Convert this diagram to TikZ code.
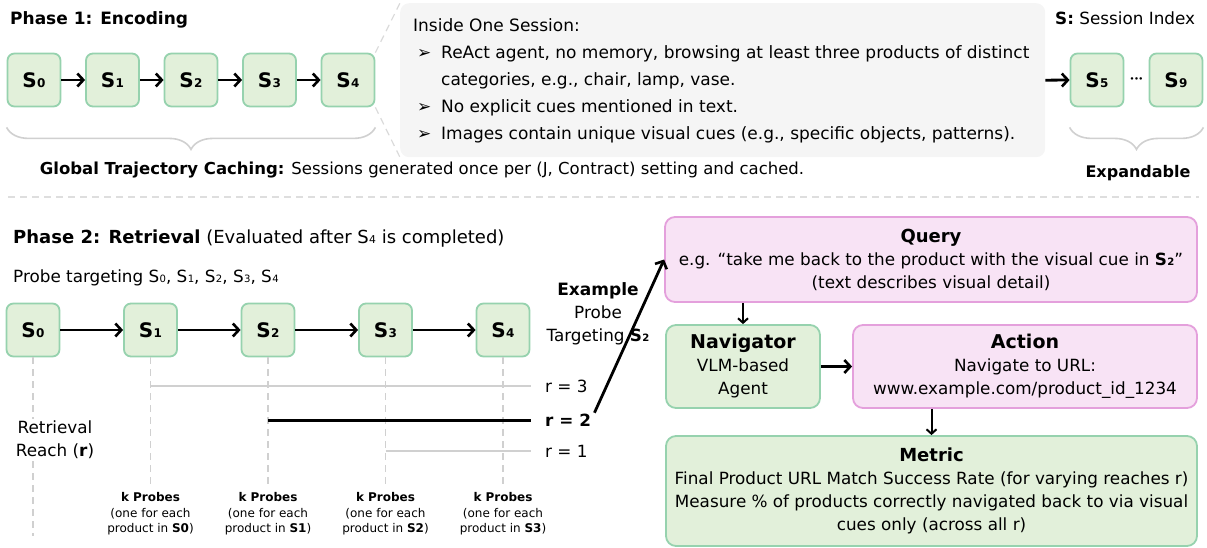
\documentclass[tikz,border=0pt]{standalone}
\usepackage{fontspec}
\setmainfont{DejaVu Sans}
\usepackage{graphicx}
\usetikzlibrary{arrows.meta,positioning,calc,decorations.pathreplacing}

\definecolor{sessfill}{HTML}{E2F0DA}
\definecolor{sessline}{HTML}{96D2AE}
\definecolor{cuefill}{HTML}{F8E3F5}
\definecolor{cueline}{HTML}{E4A0DC}
\definecolor{notefill}{HTML}{F5F5F5}
\definecolor{guide}{HTML}{D0D0D0}

\newcommand{\pxfont}[2]{\fontsize{#1}{#2}\selectfont}
\newcommand{\sess}[1]{S\kern.4pt\scalebox{.6}{#1}}

\begin{document}
\begin{tikzpicture}[x=1pt, y=-1pt,
  sessbox/.style={draw=sessline, fill=sessfill, line width=1.8pt, rounded corners=7pt,
    minimum width=53pt, minimum height=53pt, inner sep=0pt, font=\pxfont{20}{22}\bfseries},
  flow/.style={-{Straight Barb[length=6pt,width=13pt,line width=2.6pt]}, line width=2.8pt},
  thinflow/.style={-{Straight Barb[length=4.5pt,width=10pt]}, line width=2pt},
  probeline/.style={guide, line width=1.8pt, dash pattern=on 7pt off 5pt},
  curly/.style={guide, line width=1.6pt, decorate, decoration={brace, mirror, amplitude=22pt}},
  greenbox/.style={draw=sessline, fill=sessfill, line width=1.8pt, rounded corners=10pt,
    align=center, inner sep=0pt, font=\pxfont{16.8}{23}},
  pinkbox/.style={greenbox, draw=cueline, fill=cuefill},
  body/.style={font=\pxfont{16.8}{23}, inner sep=0pt}]
\useasboundingbox (0,0) rectangle (1207,548);

% ---- phase 1: encoding
\node[body, anchor=west, font=\pxfont{17}{20}\bfseries] (title1) at (10,20) {Phase 1: Encoding};
\node[sessbox] (s0) at (34,80) {\sess{0}};
\node[sessbox, right=23.7pt of s0] (s1) {\sess{1}};
\node[sessbox, right=23.7pt of s1] (s2) {\sess{2}};
\node[sessbox, right=23.7pt of s2] (s3) {\sess{3}};
\node[sessbox, right=23.7pt of s3] (s4) {\sess{4}};
\foreach \a/\b in {s0/s1, s1/s2, s2/s3, s3/s4}
  \draw[flow] (\a.east) -- (\b.west);
\draw[curly] ([yshift=-20pt]s0.south west) -- ([yshift=-20pt]s4.south east);
\node[body, font=\pxfont{16.5}{20}] (cache) at (422,170) {\textbf{Global Trajectory Caching:} Sessions generated once per (J, Contract) setting and cached.};

% session details
\node[fill=notefill, rounded corners=9pt, anchor=north west, minimum width=645pt,
  minimum height=154pt, inner sep=0pt] (note) at (400,3) {};
\draw[probeline, line width=1.2pt, guide!80] (s4.north east) -- (note.north west);
\draw[probeline, line width=1.2pt, guide!80] (s4.south east) -- (note.south west);
\node[body, font=\pxfont{17}{27.2}, anchor=north west, align=left] (notetext) at (413,18)
  {Inside One Session:\\
   \hspace*{4pt}\makebox[24pt][l]{➢}ReAct agent, no memory, browsing at least three products of distinct\\
   \hspace*{28pt}categories, e.g., chair, lamp, vase.\\
   \hspace*{4pt}\makebox[24pt][l]{➢}No explicit cues mentioned in text.\\
   \hspace*{4pt}\makebox[24pt][l]{➢}Images contain unique visual cues (e.g., specific objects, patterns).};

% expandable sessions
\node[body, anchor=west] (legend) at (1055,18) {\textbf{S:} Session Index};
\node[sessbox] (s5) at (1097,80) {\sess{5}};
\node[sessbox] (s9) at (1176,80) {\sess{9}};
\node[inner sep=0pt, font=\pxfont{7}{7}\bfseries] (dots) at ($(s5.east)!.5!(s9.west)$) {•••};
\draw[flow] (note.east) -- (s5.west);
\draw[curly] ([yshift=-20pt]s5.south west) -- ([yshift=-20pt]s9.south east);
\node[body, font=\pxfont{16}{20}\bfseries] (expand) at (1138,173) {Expandable};

\draw[probeline, guide!70, line width=1.4pt] (8,197) -- (1199,197);

% ---- phase 2: retrieval
\node[body, anchor=west, font=\pxfont{18}{20}] (title2) at (13,239) {\textbf{Phase 2: Retrieval} (Evaluated after \sess{4} is completed)};
\node[body, anchor=west] (target) at (13,278) {Probe targeting \sess{0}, \sess{1}, \sess{2}, \sess{3}, \sess{4}};

\node[sessbox] (b0) at (33,330) {\sess{0}};
\node[sessbox, right=62.7pt of b0] (b1) {\sess{1}};
\node[sessbox, right=62.7pt of b1] (b2) {\sess{2}};
\node[sessbox, right=62.7pt of b2] (b3) {\sess{3}};
\node[sessbox, right=62.7pt of b3] (b4) {\sess{4}};
\foreach \a/\b in {b0/b1, b1/b2, b2/b3, b3/b4}
  \draw[flow] (\a.east) -- (\b.west);

% probe axes
\node[body, align=center, fill=white, inner sep=2pt] (reach) at (55,440) {Retrieval\\Reach (\textbf{r})};
\draw[probeline] (b0.south) -- (b0 |- reach.north);
\draw[probeline] (b0 |- reach.south) -- ++(0,75) coordinate (e0);
\foreach \i in {1,...,4} {
  \pgfmathtruncatemacro\prev{\i-1}
  \draw[probeline] (b\i.south) -- ++(0,128) coordinate (e\i);
  \node[inner sep=0pt, anchor=north, align=center, font=\pxfont{12}{15.5}] (k\i) at ([yshift=-7pt]e\i)
    {\textbf{k Probes}\\(one for each\\product in \textbf{S\prev})};
}

% reach levels
\node[body, anchor=west] (l3) at (545,386) {r = 3};
\node[body, anchor=west, font=\pxfont{16.8}{20}\bfseries] (l2) at (545,420) {r = 2};
\node[body, anchor=west] (l1) at (545,451) {r = 1};
\draw[guide, line width=2.8pt] (b1 |- l3) -- ([xshift=-14pt]l3.west);
\draw[line width=3pt] (b2 |- l2) -- ([xshift=-14pt]l2.west);
\draw[guide, line width=2.8pt] (b3 |- l1) -- ([xshift=-14pt]l1.west);

\node[body, align=center] (example) at (598,314) {{\pxfont{17}{23}\bfseries Example}\\Probe\\Targeting \textbf{\sess{2}}};

% ---- evaluation pipeline
\node[pinkbox, minimum width=532pt, minimum height=85pt] (query) at (931,259.5)
  {{\pxfont{18}{23}\bfseries Query}\\e.g. “take me back to the product with the visual cue in \textbf{\sess{2}}”\\(text describes visual detail)};
\node[greenbox, minimum width=154pt, minimum height=83pt] (nav) at (743,366.5)
  {{\pxfont{19}{23}\bfseries Navigator}\\VLM-based\\Agent};
\node[pinkbox, minimum width=344pt, minimum height=83pt] (action) at (1025,366.5)
  {{\pxfont{19}{23}\bfseries Action}\\Navigate to URL:\\www.example.com/product\_id\_1234};
\node[greenbox, minimum width=531pt, minimum height=110pt] (metric) at (931.5,491)
  {{\pxfont{18}{23}\bfseries Metric}\\Final Product URL Match Success Rate (for varying reaches r)\\Measure \% of products correctly navigated back to via visual\\cues only (across all r)};

\draw[flow, shorten <=8pt] (l2.east) -- (query.west);
\draw[thinflow] (query.south -| nav) -- (nav.north);
\draw[flow] (nav.east) -- (action.west);
\draw[thinflow] (action.south -| metric) -- (metric.north);
\end{tikzpicture}
\end{document}
